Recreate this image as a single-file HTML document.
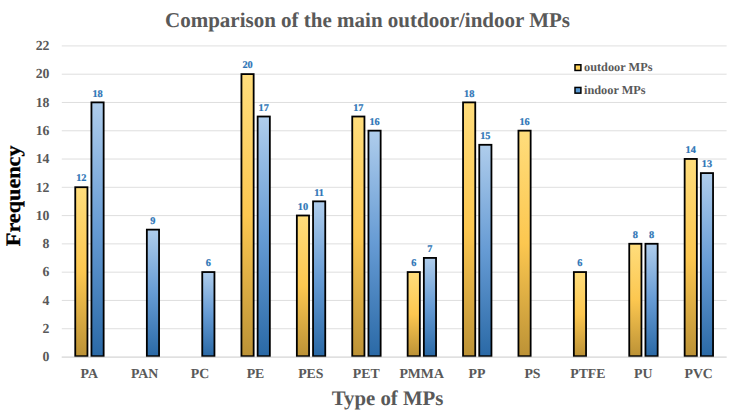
<!DOCTYPE html>
<html><head><meta charset="utf-8"><title>Chart</title>
<style>
html,body{margin:0;padding:0;background:#fff;}
body{width:734px;height:419px;overflow:hidden;}
svg{display:block;}
text{font-family:"Liberation Serif",serif;font-weight:bold;text-rendering:geometricPrecision;}
</style></head><body>
<svg width="734" height="419" viewBox="0 0 734 419">
<defs>
<linearGradient id="gyl" x1="0" y1="0" x2="0" y2="1">
<stop offset="0" stop-color="#FFDD7C"/><stop offset="0.5" stop-color="#FCC750"/><stop offset="1" stop-color="#BC9236"/>
</linearGradient>
<linearGradient id="gbl" x1="0" y1="0" x2="0" y2="1">
<stop offset="0" stop-color="#AFCDEC"/><stop offset="0.5" stop-color="#669BD4"/><stop offset="1" stop-color="#2A69A6"/>
</linearGradient>
</defs>
<rect width="734" height="419" fill="#ffffff"/>

<line x1="61.8" x2="726.6" y1="357.00" y2="357.00" stroke="#DADADA" stroke-width="0.9"/>
<text x="49.5" y="361.20" text-anchor="end" font-size="13.8" fill="#595959">0</text>
<line x1="61.8" x2="726.6" y1="328.72" y2="328.72" stroke="#DADADA" stroke-width="0.9"/>
<text x="49.5" y="332.92" text-anchor="end" font-size="13.8" fill="#595959">2</text>
<line x1="61.8" x2="726.6" y1="300.44" y2="300.44" stroke="#DADADA" stroke-width="0.9"/>
<text x="49.5" y="304.64" text-anchor="end" font-size="13.8" fill="#595959">4</text>
<line x1="61.8" x2="726.6" y1="272.16" y2="272.16" stroke="#DADADA" stroke-width="0.9"/>
<text x="49.5" y="276.36" text-anchor="end" font-size="13.8" fill="#595959">6</text>
<line x1="61.8" x2="726.6" y1="243.88" y2="243.88" stroke="#DADADA" stroke-width="0.9"/>
<text x="49.5" y="248.08" text-anchor="end" font-size="13.8" fill="#595959">8</text>
<line x1="61.8" x2="726.6" y1="215.60" y2="215.60" stroke="#DADADA" stroke-width="0.9"/>
<text x="49.5" y="219.80" text-anchor="end" font-size="13.8" fill="#595959">10</text>
<line x1="61.8" x2="726.6" y1="187.32" y2="187.32" stroke="#DADADA" stroke-width="0.9"/>
<text x="49.5" y="191.52" text-anchor="end" font-size="13.8" fill="#595959">12</text>
<line x1="61.8" x2="726.6" y1="159.04" y2="159.04" stroke="#DADADA" stroke-width="0.9"/>
<text x="49.5" y="163.24" text-anchor="end" font-size="13.8" fill="#595959">14</text>
<line x1="61.8" x2="726.6" y1="130.76" y2="130.76" stroke="#DADADA" stroke-width="0.9"/>
<text x="49.5" y="134.96" text-anchor="end" font-size="13.8" fill="#595959">16</text>
<line x1="61.8" x2="726.6" y1="102.48" y2="102.48" stroke="#DADADA" stroke-width="0.9"/>
<text x="49.5" y="106.68" text-anchor="end" font-size="13.8" fill="#595959">18</text>
<line x1="61.8" x2="726.6" y1="74.20" y2="74.20" stroke="#DADADA" stroke-width="0.9"/>
<text x="49.5" y="78.40" text-anchor="end" font-size="13.8" fill="#595959">20</text>
<line x1="61.8" x2="726.6" y1="45.92" y2="45.92" stroke="#DADADA" stroke-width="0.9"/>
<text x="49.5" y="50.12" text-anchor="end" font-size="13.8" fill="#595959">22</text>
<rect x="75.25" y="187.22" width="12.2" height="168.98" fill="url(#gyl)" stroke="#000" stroke-width="1.8"/>
<text x="81.35" y="181.37" text-anchor="middle" font-size="10.3" fill="#2E75B6" stroke="#2E75B6" stroke-width="0.2">12</text>
<rect x="91.45" y="102.38" width="12.2" height="253.82" fill="url(#gbl)" stroke="#000" stroke-width="1.8"/>
<text x="97.55" y="96.53" text-anchor="middle" font-size="10.3" fill="#2E75B6" stroke="#2E75B6" stroke-width="0.2">18</text>
<text x="89.25" y="378.4" text-anchor="middle" font-size="13.8" fill="#595959">PA</text>
<rect x="146.85" y="229.64" width="12.2" height="126.56" fill="url(#gbl)" stroke="#000" stroke-width="1.8"/>
<text x="152.95" y="223.79" text-anchor="middle" font-size="10.3" fill="#2E75B6" stroke="#2E75B6" stroke-width="0.2">9</text>
<text x="144.65" y="378.4" text-anchor="middle" font-size="13.8" fill="#595959">PAN</text>
<rect x="202.25" y="272.06" width="12.2" height="84.14" fill="url(#gbl)" stroke="#000" stroke-width="1.8"/>
<text x="208.35" y="266.21" text-anchor="middle" font-size="10.3" fill="#2E75B6" stroke="#2E75B6" stroke-width="0.2">6</text>
<text x="200.05" y="378.4" text-anchor="middle" font-size="13.8" fill="#595959">PC</text>
<rect x="241.45" y="74.10" width="12.2" height="282.10" fill="url(#gyl)" stroke="#000" stroke-width="1.8"/>
<text x="247.55" y="68.25" text-anchor="middle" font-size="10.3" fill="#2E75B6" stroke="#2E75B6" stroke-width="0.2">20</text>
<rect x="257.65" y="116.52" width="12.2" height="239.68" fill="url(#gbl)" stroke="#000" stroke-width="1.8"/>
<text x="263.75" y="110.67" text-anchor="middle" font-size="10.3" fill="#2E75B6" stroke="#2E75B6" stroke-width="0.2">17</text>
<text x="255.45" y="378.4" text-anchor="middle" font-size="13.8" fill="#595959">PE</text>
<rect x="296.85" y="215.50" width="12.2" height="140.70" fill="url(#gyl)" stroke="#000" stroke-width="1.8"/>
<text x="302.95" y="209.65" text-anchor="middle" font-size="10.3" fill="#2E75B6" stroke="#2E75B6" stroke-width="0.2">10</text>
<rect x="313.05" y="201.36" width="12.2" height="154.84" fill="url(#gbl)" stroke="#000" stroke-width="1.8"/>
<text x="319.15" y="195.51" text-anchor="middle" font-size="10.3" fill="#2E75B6" stroke="#2E75B6" stroke-width="0.2">11</text>
<text x="310.85" y="378.4" text-anchor="middle" font-size="13.8" fill="#595959">PES</text>
<rect x="352.25" y="116.52" width="12.2" height="239.68" fill="url(#gyl)" stroke="#000" stroke-width="1.8"/>
<text x="358.35" y="110.67" text-anchor="middle" font-size="10.3" fill="#2E75B6" stroke="#2E75B6" stroke-width="0.2">17</text>
<rect x="368.45" y="130.66" width="12.2" height="225.54" fill="url(#gbl)" stroke="#000" stroke-width="1.8"/>
<text x="374.55" y="124.81" text-anchor="middle" font-size="10.3" fill="#2E75B6" stroke="#2E75B6" stroke-width="0.2">16</text>
<text x="366.25" y="378.4" text-anchor="middle" font-size="13.8" fill="#595959">PET</text>
<rect x="407.65" y="272.06" width="12.2" height="84.14" fill="url(#gyl)" stroke="#000" stroke-width="1.8"/>
<text x="413.75" y="266.21" text-anchor="middle" font-size="10.3" fill="#2E75B6" stroke="#2E75B6" stroke-width="0.2">6</text>
<rect x="423.85" y="257.92" width="12.2" height="98.28" fill="url(#gbl)" stroke="#000" stroke-width="1.8"/>
<text x="429.95" y="252.07" text-anchor="middle" font-size="10.3" fill="#2E75B6" stroke="#2E75B6" stroke-width="0.2">7</text>
<text x="421.65" y="378.4" text-anchor="middle" font-size="13.8" fill="#595959">PMMA</text>
<rect x="463.05" y="102.38" width="12.2" height="253.82" fill="url(#gyl)" stroke="#000" stroke-width="1.8"/>
<text x="469.15" y="96.53" text-anchor="middle" font-size="10.3" fill="#2E75B6" stroke="#2E75B6" stroke-width="0.2">18</text>
<rect x="479.25" y="144.80" width="12.2" height="211.40" fill="url(#gbl)" stroke="#000" stroke-width="1.8"/>
<text x="485.35" y="138.95" text-anchor="middle" font-size="10.3" fill="#2E75B6" stroke="#2E75B6" stroke-width="0.2">15</text>
<text x="477.05" y="378.4" text-anchor="middle" font-size="13.8" fill="#595959">PP</text>
<rect x="518.45" y="130.66" width="12.2" height="225.54" fill="url(#gyl)" stroke="#000" stroke-width="1.8"/>
<text x="524.55" y="124.81" text-anchor="middle" font-size="10.3" fill="#2E75B6" stroke="#2E75B6" stroke-width="0.2">16</text>
<text x="532.45" y="378.4" text-anchor="middle" font-size="13.8" fill="#595959">PS</text>
<rect x="573.85" y="272.06" width="12.2" height="84.14" fill="url(#gyl)" stroke="#000" stroke-width="1.8"/>
<text x="579.95" y="266.21" text-anchor="middle" font-size="10.3" fill="#2E75B6" stroke="#2E75B6" stroke-width="0.2">6</text>
<text x="587.85" y="378.4" text-anchor="middle" font-size="13.8" fill="#595959">PTFE</text>
<rect x="629.25" y="243.78" width="12.2" height="112.42" fill="url(#gyl)" stroke="#000" stroke-width="1.8"/>
<text x="635.35" y="237.93" text-anchor="middle" font-size="10.3" fill="#2E75B6" stroke="#2E75B6" stroke-width="0.2">8</text>
<rect x="645.45" y="243.78" width="12.2" height="112.42" fill="url(#gbl)" stroke="#000" stroke-width="1.8"/>
<text x="651.55" y="237.93" text-anchor="middle" font-size="10.3" fill="#2E75B6" stroke="#2E75B6" stroke-width="0.2">8</text>
<text x="643.25" y="378.4" text-anchor="middle" font-size="13.8" fill="#595959">PU</text>
<rect x="684.65" y="158.94" width="12.2" height="197.26" fill="url(#gyl)" stroke="#000" stroke-width="1.8"/>
<text x="690.75" y="153.09" text-anchor="middle" font-size="10.3" fill="#2E75B6" stroke="#2E75B6" stroke-width="0.2">14</text>
<rect x="700.85" y="173.08" width="12.2" height="183.12" fill="url(#gbl)" stroke="#000" stroke-width="1.8"/>
<text x="706.95" y="167.23" text-anchor="middle" font-size="10.3" fill="#2E75B6" stroke="#2E75B6" stroke-width="0.2">13</text>
<text x="698.65" y="378.4" text-anchor="middle" font-size="13.8" fill="#595959">PVC</text>
<line x1="61.8" x2="726.6" y1="357.2" y2="357.2" stroke="#DADADA" stroke-width="1"/>
<text x="367.5" y="26.8" text-anchor="middle" font-size="21" fill="#595959">Comparison of the main outdoor/indoor MPs</text>
<text x="387.6" y="405.3" text-anchor="middle" font-size="20.8" fill="#595959">Type of MPs</text>
<text transform="translate(20.4,195.8) rotate(-90) scale(1,0.93)" text-anchor="middle" font-size="22.2" fill="#000" stroke="#000" stroke-width="0.3">Frequency</text>
<rect x="575" y="64.75" width="5.9" height="5.7" fill="#FFD257" stroke="#000" stroke-width="1.5"/>
<text x="584" y="70.8" font-size="12.3" fill="#595959">outdoor MPs</text>
<rect x="575" y="87.45" width="5.9" height="5.7" fill="#5B9BD5" stroke="#000" stroke-width="1.5"/>
<text x="584" y="93.6" font-size="12.3" fill="#595959">indoor MPs</text>
</svg></body></html>
